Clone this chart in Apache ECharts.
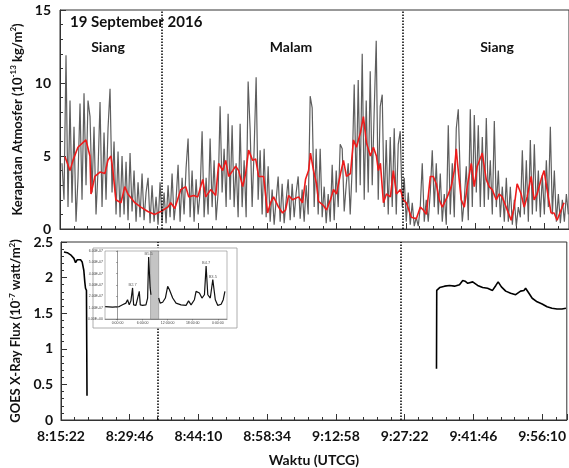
<!DOCTYPE html>
<html><head><meta charset="utf-8">
<script src="https://cdn.jsdelivr.net/npm/echarts@6/dist/echarts.min.js"></script>
<style>html,body{margin:0;padding:0;background:#fff}#c{width:569px;height:468px}</style>
</head><body><div id="c"></div>
<script>
// ---- DATA ----
// x values are seconds after 8:15:22 UTCG
const tickLabels = ['8:15:22','8:29:46','8:44:10','8:58:34','9:12:58','9:27:22','9:41:46','9:56:10'];
const tickStep = 864;
const boundaryTop = [1272, 4277];     // dotted day/night boundaries (top panel)
const boundaryBottom = [1222, 4265];  // dotted boundaries (bottom panel)

// atmospheric density (1e-13 kg/m^2), sampled every 25 s from t=25 s
const grayStart = 25, grayStep = 25;
const grayValues = [
 4.5,2.0,11.9,1.5,8.8,1.8,7.0,0.5,3.5,8.6,
 2.0,9.3,3.0,8.8,7.7,2.5,7.0,1.0,4.0,8.7,
 1.5,6.6,2.0,6.9,9.6,2.5,6.0,1.0,5.3,0.8,
 5.0,1.0,4.6,0.6,5.2,1.2,4.0,0.5,3.2,0.8,
 3.8,0.6,2.5,3.5,0.4,3.0,0.5,2.2,0.3,3.2,
 0.5,2.5,0.4,3.0,0.8,3.8,0.6,2.0,4.4,0.5,
 3.5,1.0,4.2,6.2,0.8,4.0,0.5,3.4,1.0,2.5,
 6.7,0.8,3.5,1.0,6.2,1.5,4.7,0.6,2.5,8.4,
 2.5,5.5,1.5,7.9,2.0,7.1,1.5,4.5,0.8,7.2,
 1.5,4.7,0.8,10.1,6.8,1.5,5.5,10.4,2.0,5.4,
 1.0,5.5,0.8,4.3,0.5,2.7,0.3,2.0,3.6,0.5,
 3.1,0.4,2.0,3.4,0.6,3.1,0.8,2.5,3.6,0.7,
 2.7,0.5,3.0,1.0,9.1,8.3,1.5,5.5,1.0,5.5,
 0.8,2.9,0.4,2.4,0.5,4.4,0.6,4.0,1.5,5.8,
 5.5,1.2,3.0,4.5,1.0,4.2,9.9,2.5,10.2,3.0,
 12.0,2.0,8.8,2.5,10.8,3.0,8.2,12.9,2.0,8.4,
 9.2,1.5,6.1,1.0,6.3,1.5,6.9,1.0,5.8,6.7,
 1.5,3.5,0.5,2.5,0.3,1.8,0.2,0.8,0.2,1.5,
 4.5,0.5,2.0,0.5,2.5,5.4,1.5,4.5,1.0,3.8,
 0.5,2.4,0.3,7.1,1.0,4.5,0.8,6.9,8.2,3.4,
 0.5,2.0,4.3,0.6,8.2,1.5,7.8,2.5,7.1,1.5,
 6.3,1.5,7.6,2.0,4.7,1.0,7.4,1.5,4.0,0.8,
 2.9,0.5,3.5,0.5,2.9,0.3,2.0,0.2,1.5,0.8,
 5.4,1.0,4.7,0.5,6.1,1.0,5.8,1.2,4.0,0.8,
 3.7,1.0,4.7,1.5,7.0,1.0,4.0,0.5,2.4,0.4,
 2.0,0.5,2.4,1.0
];

// smoothed density (red)
const redTimes = [62,125,162,224,324,374,387,436,499,561,598,636,661,698,761,810,848,935,1010,1097,1184,1259,1347,1384,1434,1509,1571,1608,1671,1721,1783,1820,1883,1945,1982,2032,2070,2107,2157,2194,2232,2282,2319,2356,2406,2444,2481,2543,2593,2631,2668,2730,2780,2818,2855,2905,2980,3030,3067,3105,3129,3167,3204,3229,3292,3329,3379,3416,3454,3504,3541,3578,3628,3666,3703,3753,3790,3828,3878,3915,3952,3977,4002,4040,4077,4127,4164,4202,4252,4289,4326,4389,4451,4501,4538,4576,4626,4663,4700,4738,4775,4838,4887,4925,4950,4962,5012,5050,5087,5137,5174,5212,5261,5274,5324,5361,5399,5449,5486,5523,5573,5636,5673,5710,5760,5798,5835,5885,5922,5960,6010,6047,6084,6134,6172,6209,6259,6296];
const redValues = [4.95,4.0,4.7,5.6,6.1,5.0,2.4,3.6,3.9,3.8,4.7,5.0,4.0,2.0,1.8,2.9,2.4,1.8,1.5,1.2,1.0,1.2,1.5,1.8,1.4,2.7,2.9,2.2,2.3,2.2,3.4,2.2,2.7,2.3,4.5,4.0,4.7,3.6,4.0,4.3,4.0,2.9,3.8,5.4,4.7,4.8,3.6,3.6,1.1,1.8,2.2,1.5,1.1,1.3,2.3,2.0,2.2,1.8,3.4,4.0,5.2,4.0,3.1,1.9,1.6,1.3,2.0,2.7,2.4,3.8,4.7,3.6,3.8,6.1,5.6,6.6,7.7,5.9,5.0,5.6,5.0,4.0,4.5,1.8,2.4,2.2,4.0,2.4,2.7,2.0,1.8,0.8,0.7,1.5,1.3,1.0,3.6,3.6,3.1,2.0,1.5,2.2,2.9,4.0,5.5,4.7,2.0,1.5,2.9,4.5,2.9,4.3,5.0,5.2,3.4,2.9,2.7,2.0,2.4,2.2,1.5,0.6,1.5,3.1,2.4,1.5,2.2,3.6,2.0,2.4,3.4,4.0,2.7,1.1,1.1,0.6,1.3,1.8];

// GOES X-ray flux (1e-7 W/m^2); '-' marks the data gap
const goesTimes = [37,79,121,162,183,203,246,266,287,299,308,320,327,2000,4720,4723,4760,4822,4884,4947,5009,5050,5079,5113,5175,5237,5300,5362,5424,5466,5495,5536,5590,5652,5715,5777,5819,5840,5882,5923,5985,6048,6110,6172,6235,6297,6347];
const goesValues = [2.36,2.35,2.32,2.27,2.21,2.25,2.25,2.22,2.10,1.94,1.85,1.82,0.34,'-',0.72,1.82,1.86,1.88,1.89,1.88,1.90,1.96,1.95,1.92,1.94,1.89,1.86,1.85,1.82,1.89,1.94,1.87,1.81,1.78,1.76,1.81,1.82,1.85,1.78,1.71,1.66,1.63,1.59,1.57,1.56,1.56,1.57];

// inset: full-day flux (hours UT, 1e-7 W/m^2)
const insetHours = [-2.95,-1.2,0.4,1.2,2.0,2.4,2.8,3.2,3.6,3.85,4.4,5.2,5.45,6.0,6.8,7.2,7.45,7.8,8.0,9.0,9.85,10.2,10.8,11.45,12.0,12.4,13.2,14.0,15.2,16.4,17.0,17.6,18.4,18.8,19.6,20.2,20.8,21.2,21.6,22.2,22.8,23.4,24.0,24.8,25.3,25.7];
const insetValues = [1.10,1.04,1.10,1.25,1.40,1.70,1.25,1.60,2.74,1.25,1.20,2.44,1.25,1.20,1.25,1.85,5.47,2.74,2.14,'-',1.85,1.40,1.48,1.85,2.88,2.60,1.85,1.40,1.25,1.20,1.60,1.25,1.70,2.44,2.30,1.85,2.14,4.67,2.14,1.85,3.48,1.70,1.20,1.30,1.70,2.44];
const insetTickHours = [0,6,12,18,24];
const insetTickLabels = ['0:00:00','6:00:00','12:00:00','18:00:00','0:00:00'];
const insetBand = [7.9, 9.85];
const flareHours = [3.6, 7.45, 21.2, 22.8];
const flareValues = [2.74, 5.47, 4.67, 3.48];
const flareNames = ['B2.7','B5.5','B4.7','B3.5'];

// ---- CHART ----
const F = 'Lato';
const chart = echarts.init(document.getElementById('c'));
const grayData = grayValues.map((v,i)=>[grayStart + i*grayStep, v]);
const redData = redTimes.map((t,i)=>[t, redValues[i]]);
const goesData = goesTimes.map((t,i)=>[t, goesValues[i]]);
const insetData = insetHours.map((t,i)=>[t, insetValues[i]]);
const flareData = flareHours.map((t,i)=>({value:[t, flareValues[i]], name: flareNames[i]}));

function timeFmt(v){
  const k = Math.round(v/tickStep);
  return (Math.abs(v - k*tickStep) < 1 && tickLabels[k]) ? tickLabels[k] : '';
}
const axColor = '#333';
const lab = {fontFamily:F, fontWeight:'bold', fontSize:14, color:'#111'};
const xCommon = {
  type:'value', min:0, max:6358, interval:tickStep,
  axisLine:{lineStyle:{color:axColor, width:1}},
  axisTick:{inside:true, length:6, lineStyle:{color:axColor}},
  minorTick:{show:true, splitNumber:5, length:3, lineStyle:{color:axColor}},
  splitLine:{show:false}
};
const yCommon = {
  type:'value',
  axisLine:{show:true, lineStyle:{color:axColor, width:1}},
  axisTick:{show:true, inside:true, length:6, lineStyle:{color:axColor}},
  minorTick:{show:true, splitNumber:5, length:3, lineStyle:{color:axColor}},
  splitLine:{show:false},
  nameLocation:'middle'
};
const richName = {
  a:{fontFamily:F, fontWeight:'bold', fontSize:13, color:'#111', lineHeight:16},
  s:{fontFamily:F, fontWeight:'bold', fontSize:8, color:'#111', lineHeight:16, verticalAlign:'top'}
};
const tiny = {fontFamily:'Liberation Sans', fontSize:3.5, color:'#444'};

chart.setOption({
  animation:false,
  backgroundColor:'#fff',
  grid:[
    {left:60, right:-1, top:10, height:219, show:true, borderColor:axColor, borderWidth:1},
    {left:60, right:-1, top:242, height:181, show:true, borderColor:axColor, borderWidth:1},
    {left:105, top:251, width:122, height:68, show:true, borderColor:'#888', borderWidth:0.6, backgroundColor:'#fff', z:60}
  ],
  xAxis:[
    Object.assign({gridIndex:0, axisLabel:{show:false}}, xCommon),
    Object.assign({gridIndex:1, axisLabel:Object.assign({formatter:timeFmt, margin:9, showMaxLabel:false}, lab),
      name:'Waktu (UTCG)', nameLocation:'middle', nameGap:33,
      nameTextStyle:{fontFamily:F, fontWeight:'bold', fontSize:14, color:'#111'}}, xCommon),
    {gridIndex:2, type:'value', min:-3, max:26.2, z:64,
      axisLine:{lineStyle:{color:'#555', width:0.6}},
      axisTick:{customValues:insetTickHours, length:1.5, lineStyle:{color:'#555', width:0.5}},
      axisLabel:Object.assign({customValues:insetTickHours, margin:2,
        formatter:(v)=>insetTickLabels[insetTickHours.indexOf(v)] || ''}, tiny),
      splitLine:{show:false}}
  ],
  yAxis:[
    Object.assign({gridIndex:0, min:0, max:15, interval:5,
      axisLabel:Object.assign({margin:9}, lab),
      name:'{a|Kerapatan Atmosfer (10}{s|-13}{a| kg/m}{s|2}{a|)}', nameGap:33,
      nameTextStyle:{rich:richName}}, yCommon),
    Object.assign({gridIndex:1, min:0, max:2.5, interval:0.5,
      axisLabel:Object.assign({margin:8}, lab),
      name:'{a|GOES X-Ray Flux (10}{s|-7}{a| watt/m}{s|2}{a|)}', nameGap:37,
      nameTextStyle:{rich:richName}}, yCommon),
    {gridIndex:2, type:'value', min:0, max:6, interval:1, z:64,
      axisLine:{show:true, lineStyle:{color:'#555', width:0.6}},
      axisTick:{show:true, length:1.5, lineStyle:{color:'#555', width:0.5}},
      axisLabel:Object.assign({margin:2, formatter:(v)=> v===0 ? '0.00E+00' : v.toFixed(2)+'E-07'}, tiny),
      splitLine:{show:false}}
  ],
  graphic:[
    {type:'rect', z:50, shape:{x:93, y:248, width:144, height:80}, style:{fill:'#fff', stroke:'#9a9a9a', lineWidth:0.8}},
    {type:'text', x:70, y:15, z:10, style:{text:'19 September 2016', font:'bold 15px Lato', fill:'#111', verticalAlign:'top'}},
    {type:'text', x:108, y:40, z:10, style:{text:'Siang', font:'bold 14px Lato', fill:'#111', align:'center', verticalAlign:'top'}},
    {type:'text', x:291, y:40, z:10, style:{text:'Malam', font:'bold 14px Lato', fill:'#111', align:'center', verticalAlign:'top'}},
    {type:'text', x:497, y:40, z:10, style:{text:'Siang', font:'bold 14px Lato', fill:'#111', align:'center', verticalAlign:'top'}}
  ],
  series:[
    {type:'line', xAxisIndex:0, yAxisIndex:0, data:grayData, symbol:'none', z:2,
      lineStyle:{color:'#5e5e5e', width:1.2},
      markLine:{silent:true, symbol:['none','none'], label:{show:false},
        lineStyle:{type:'dotted', color:'#000', width:1.5},
        data:boundaryTop.map(t=>({xAxis:t}))}},
    {type:'line', xAxisIndex:0, yAxisIndex:0, data:redData, symbol:'none', z:3,
      lineStyle:{color:'#ee1b1b', width:1.6}},
    {type:'line', xAxisIndex:1, yAxisIndex:1, data:goesData, symbol:'none', z:3, connectNulls:false,
      lineStyle:{color:'#000', width:1.6},
      markLine:{silent:true, symbol:['none','none'], label:{show:false},
        lineStyle:{type:'dotted', color:'#000', width:1.5},
        data:boundaryBottom.map(t=>({xAxis:t}))}},
    {type:'line', xAxisIndex:2, yAxisIndex:2, data:insetData, symbol:'none', z:63, connectNulls:false,
      lineStyle:{color:'#111', width:1.2},
      markArea:{silent:true, z:62, itemStyle:{color:'#c4c4c4', borderColor:'#777', borderWidth:0.5},
        data:[[{xAxis:insetBand[0]},{xAxis:insetBand[1]}]]}},
    {type:'scatter', xAxisIndex:2, yAxisIndex:2, data:flareData, symbolSize:0, z:65,
      label:{show:true, position:'top', distance:1, formatter:(p)=>p.name, fontFamily:'Liberation Sans', fontSize:4, color:'#333'}}
  ]
});
</script></body></html>
